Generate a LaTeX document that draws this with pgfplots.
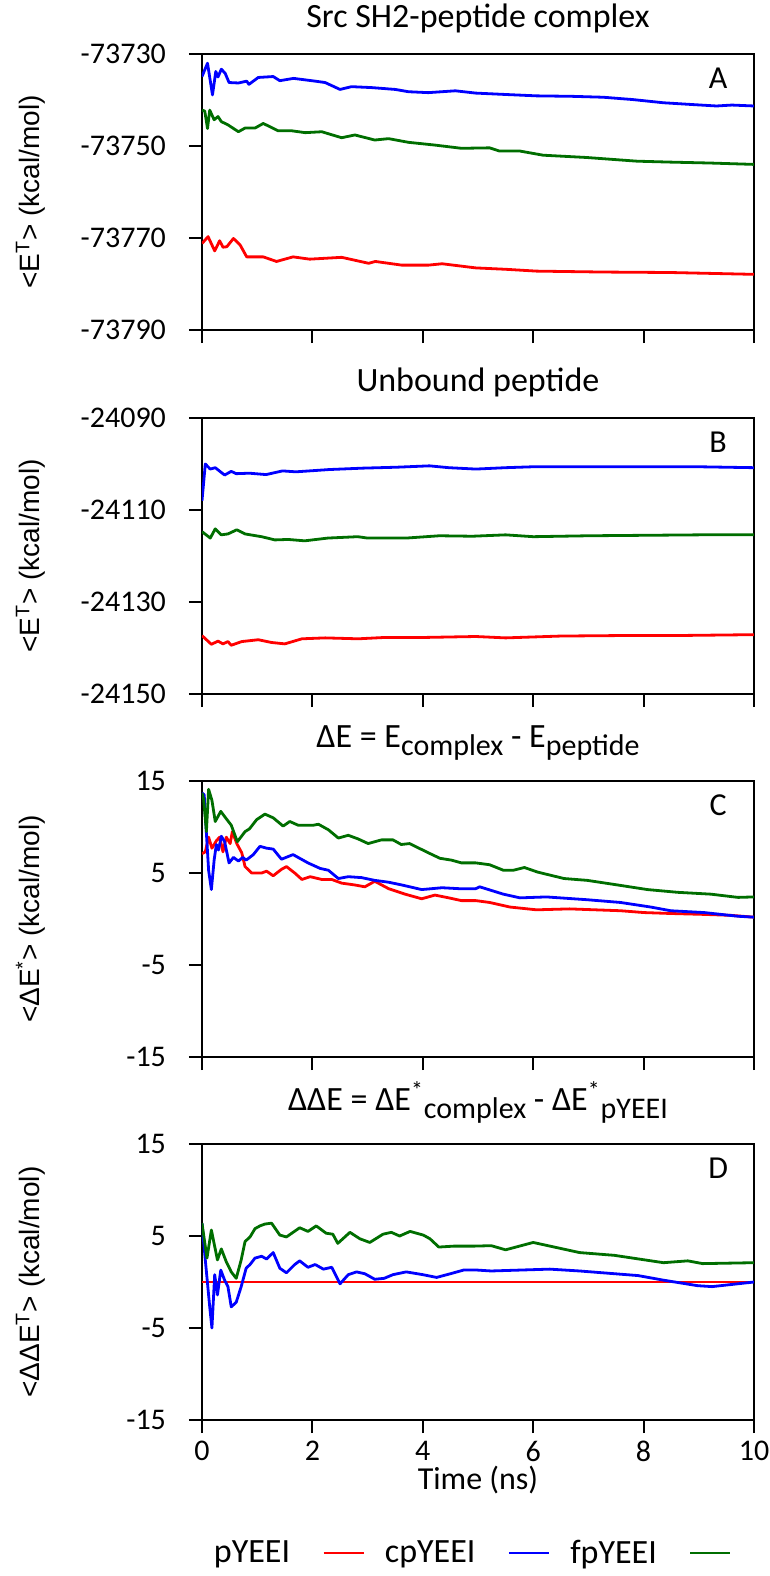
\documentclass[border=0pt]{standalone}
\usepackage{fontspec}
\setmainfont{Carlito}
\newfontfamily\labfont{Liberation Sans}
\usepackage{pgfplots}
\pgfplotsset{compat=1.18}
\definecolor{cRed}{RGB}{255,0,0}
\definecolor{cBlue}{RGB}{0,0,255}
\definecolor{cGreen}{RGB}{0,110,0}
\newcommand{\sub}[1]{\raisebox{-0.45ex}{\fontsize{15}{15}\selectfont #1}}

\pgfplotsset{
  panel/.style={
    width=276pt, height=138pt, scale only axis,
    xmin=0, xmax=10, xtick={0,2,4,6,8,10},
    scaled y ticks=false,
    tick align=outside, xtick pos=bottom, ytick pos=left,
    major tick length=6.5pt,
    axis line style={line width=1pt},
    every tick/.style={black, line width=1pt},
    title style={font=\fontsize{17}{20}\selectfont, yshift=1pt},
    tick label style={font=\fontsize{15}{18}\selectfont},
    yticklabel style={xshift=-8pt},
    xticklabel style={yshift=-3pt, inner sep=1pt},
    every axis y label/.style={at={(rel axis cs:-0.31,0.5)}, rotate=90, anchor=center,
      font=\labfont\fontsize{14}{16}\selectfont},
    every axis plot/.append style={line width=1.4pt, line join=round, no markers},
  },
  panelE/.style={ytick={-15,-5,5,15}, yticklabels={-15,-5,5,15}, ymin=-15, ymax=15},
}

\begin{document}
\begin{tikzpicture}

% A: complex
\begin{axis}[panel, name=A, at={(0,0)},
  title={Src SH2-peptide complex},
  ymin=-73790, ymax=-73730,
  ytick={-73790,-73770,-73750,-73730},
  yticklabels={-73790,-73770,-73750,-73730},
  xticklabels={},
  ylabel={<E\textsuperscript{T}> (kcal/mol)}]
\addplot[cRed] coordinates {
 (0,-73771.2) (0.11,-73769.7) (0.23,-73772.8) (0.32,-73770.6) (0.38,-73772.0) (0.45,-73771.9)
 (0.57,-73770.1) (0.69,-73771.5) (0.81,-73774.1) (1.11,-73774.1) (1.35,-73775.1) (1.65,-73774.1)
 (1.95,-73774.6) (2.53,-73774.2) (3.02,-73775.5) (3.14,-73775.1) (3.62,-73775.9) (4.10,-73775.9)
 (4.35,-73775.6) (4.96,-73776.5) (5.5,-73776.8) (6.06,-73777.2) (7.27,-73777.4) (8.48,-73777.5)
 (10,-73777.9)};
\addplot[cBlue] coordinates {
 (0,-73734.9) (0.10,-73732.0) (0.19,-73738.9) (0.25,-73733.8) (0.29,-73735.0) (0.35,-73733.3)
 (0.42,-73734.2) (0.49,-73736.2) (0.66,-73736.3) (0.81,-73735.9) (0.85,-73736.6) (1.02,-73735.1)
 (1.29,-73734.9) (1.41,-73735.8) (1.66,-73735.3) (2.05,-73735.9) (2.23,-73736.2) (2.50,-73737.7)
 (2.71,-73737.1) (3.07,-73737.3) (3.50,-73737.7) (3.74,-73738.2) (4.10,-73738.4) (4.59,-73738.0)
 (4.96,-73738.5) (5.5,-73738.8) (6.06,-73739.1) (6.7,-73739.2) (7.27,-73739.4) (7.8,-73739.9)
 (8.36,-73740.6) (8.9,-73741.0) (9.32,-73741.3) (9.6,-73741.1) (10,-73741.3)};
\addplot[cGreen] coordinates {
 (0,-73742.2) (0.05,-73742.4) (0.10,-73746.2) (0.14,-73742.2) (0.22,-73744.3) (0.29,-73743.6)
 (0.35,-73744.7) (0.47,-73745.4) (0.66,-73746.9) (0.78,-73746.1) (0.96,-73746.1) (1.11,-73745.1)
 (1.38,-73746.7) (1.63,-73746.7) (1.87,-73747.1) (2.17,-73746.9) (2.53,-73748.2) (2.77,-73747.6)
 (3.13,-73748.7) (3.38,-73748.4) (3.74,-73749.2) (4.22,-73749.8) (4.70,-73750.5) (5.21,-73750.4)
 (5.39,-73751.1) (5.76,-73751.1) (6.18,-73752.0) (6.97,-73752.5) (7.88,-73753.3) (8.48,-73753.5)
 (9.2,-73753.7) (10,-73754.0)};
\node[font=\fontsize{16}{18}\selectfont] at (rel axis cs:0.935,0.913) {A};
\end{axis}

% B: unbound peptide
\begin{axis}[panel, name=B, at={(0,-182pt)},
  title={Unbound peptide},
  ymin=-24150, ymax=-24090,
  ytick={-24150,-24130,-24110,-24090},
  yticklabels={-24150,-24130,-24110,-24090},
  xticklabels={},
  ylabel={<E\textsuperscript{T}> (kcal/mol)}]
\addplot[cRed] coordinates {
 (0,-24137.3) (0.17,-24139.2) (0.29,-24138.5) (0.38,-24139.1) (0.47,-24138.6) (0.53,-24139.4)
 (0.72,-24138.6) (1.02,-24138.2) (1.26,-24138.8) (1.50,-24139.1) (1.81,-24138.0) (2.23,-24137.8)
 (2.83,-24138.0) (3.32,-24137.7) (4.05,-24137.7) (4.96,-24137.5) (5.5,-24137.8) (6.5,-24137.4)
 (7.5,-24137.3) (8.5,-24137.3) (10,-24137.1)};
\addplot[cBlue] coordinates {
 (0,-24108.0) (0.06,-24100.0) (0.15,-24101.1) (0.24,-24100.8) (0.41,-24102.4) (0.53,-24101.6)
 (0.62,-24102.1) (0.86,-24102.0) (1.16,-24102.3) (1.46,-24101.5) (1.70,-24101.7) (2.31,-24101.2)
 (2.91,-24100.9) (3.52,-24100.7) (4.12,-24100.4) (4.47,-24100.8) (4.96,-24101.1) (5.5,-24100.8)
 (6.0,-24100.6) (7.0,-24100.6) (8.0,-24100.6) (9.0,-24100.6) (10,-24100.8)};
\addplot[cGreen] coordinates {
 (0,-24114.7) (0.15,-24116.1) (0.24,-24114.1) (0.35,-24115.4) (0.47,-24115.2) (0.63,-24114.3)
 (0.78,-24115.2) (1.08,-24115.8) (1.32,-24116.5) (1.56,-24116.4) (1.86,-24116.7) (2.28,-24116.1)
 (2.82,-24115.8) (3.0,-24116.1) (3.70,-24116.1) (4.30,-24115.6) (4.9,-24115.7) (5.5,-24115.4)
 (6.0,-24115.8) (7.0,-24115.6) (8.0,-24115.5) (9.0,-24115.4) (10,-24115.4)};
\node[font=\fontsize{16}{18}\selectfont] at (rel axis cs:0.935,0.913) {B};
\end{axis}

% C: Delta E
\begin{axis}[panel, panelE, name=C, at={(0,-363.5pt)},
  title={ΔE = E\sub{complex} - E\sub{peptide}},
  xticklabels={},
  ylabel={<ΔE\textsuperscript{*}> (kcal/mol)}]
\addplot[cRed] coordinates {
 (0,7.1) (0.06,7.3) (0.12,8.9) (0.18,7.7) (0.26,8.5) (0.32,8.9) (0.38,7.3) (0.44,8.9) (0.51,8.2)
 (0.55,9.5) (0.63,8.2) (0.72,7.2) (0.78,5.7) (0.90,5.0) (1.08,5.0) (1.17,5.2) (1.29,4.7) (1.44,5.4)
 (1.53,5.7) (1.68,5.0) (1.81,4.3) (1.96,4.6) (2.17,4.3) (2.35,4.3) (2.53,3.9) (2.77,3.7) (2.95,3.5)
 (3.13,4.1) (3.38,3.3) (3.68,2.7) (3.98,2.2) (4.22,2.6) (4.47,2.3) (4.70,2.0) (4.96,2.0) (5.21,1.8)
 (5.58,1.3) (6.06,1.0) (6.66,1.1) (7.58,0.9) (8.01,0.7) (8.49,0.6) (9.10,0.5) (9.58,0.4) (10,0.2)};
\addplot[cBlue] coordinates {
 (0,13.7) (0.04,13.5) (0.08,9.3) (0.12,5.3) (0.17,3.2) (0.22,6.4) (0.26,8.1) (0.30,7.5) (0.35,9.0)
 (0.41,8.4) (0.49,6.1) (0.57,6.7) (0.66,6.3) (0.74,6.7) (0.80,6.4) (0.93,7.0) (1.05,7.9) (1.17,7.7)
 (1.29,7.6) (1.44,6.5) (1.65,7.0) (1.92,6.1) (2.14,5.5) (2.29,5.3) (2.47,4.4) (2.65,4.6) (2.89,4.5)
 (3.13,4.2) (3.38,4.0) (3.62,3.7) (3.98,3.2) (4.35,3.4) (4.65,3.3) (4.96,3.3) (5.03,3.5) (5.46,2.7)
 (5.76,2.3) (6.24,2.4) (6.97,2.1) (7.58,1.8) (8.13,1.3) (8.49,0.9) (9.10,0.7) (9.71,0.3) (10,0.2)};
\addplot[cGreen] coordinates {
 (0,13.7) (0.03,13.0) (0.08,9.5) (0.12,14.1) (0.18,12.9) (0.24,10.6) (0.34,11.7) (0.44,10.9)
 (0.53,10.2) (0.64,8.4) (0.78,9.5) (0.86,9.8) (0.99,10.8) (1.14,11.4) (1.29,11.0) (1.47,10.1)
 (1.59,10.6) (1.74,10.2) (2.02,10.2) (2.11,10.3) (2.29,9.7) (2.47,8.8) (2.65,9.1) (2.83,8.7)
 (3.01,8.2) (3.25,8.6) (3.46,8.6) (3.61,8.1) (3.76,8.2) (4.10,7.2) (4.31,6.6) (4.52,6.4) (4.70,6.1)
 (4.96,6.1) (5.21,5.9) (5.46,5.3) (5.64,5.3) (5.84,5.6) (6.08,5.1) (6.56,4.4) (6.98,4.2) (7.53,3.7)
 (8.07,3.2) (8.62,2.9) (9.22,2.7) (9.71,2.35) (10,2.4)};
\node[font=\fontsize{16}{18}\selectfont] at (rel axis cs:0.935,0.913) {C};
\end{axis}

% D: Delta Delta E
\begin{axis}[panel, panelE, name=D, at={(0,-545pt)},
  title={ΔΔE = ΔE\textsuperscript{*}\sub{complex} - ΔE\textsuperscript{*}\sub{pYEEI}},
  xticklabels={0,2,4,6,8,10},
  xlabel={Time (ns)},
  xlabel style={font=\fontsize{16}{18}\selectfont, inner sep=1pt, yshift=0pt},
  ylabel={<ΔΔE\textsuperscript{T}> (kcal/mol)},
  legend style={at={(rel axis cs:0.487,-0.482)}, anchor=center, draw=none, fill=none,
    legend columns=3, font=\fontsize{17}{20}\selectfont,
    /tikz/every even column/.append style={column sep=8pt},
    /tikz/every odd column/.append style={column sep=14pt}},
  legend plot pos=right,
  legend image code/.code={\draw[#1] (0pt,0pt) -- (20pt,0pt);}]
\addplot[cRed] coordinates {(0,0) (10,0)};
\addlegendentry{pYEEI}
\addplot[cBlue] coordinates {
 (0,6.4) (0.06,2.4) (0.14,-2.7) (0.18,-5.0) (0.23,0.8) (0.28,-1.4) (0.34,1.3) (0.41,0.2) (0.47,-0.5)
 (0.53,-2.7) (0.62,-2.2) (0.71,-0.5) (0.80,1.5) (0.87,1.9) (0.96,2.6) (1.08,2.8) (1.17,2.5) (1.29,3.2)
 (1.41,1.5) (1.53,1.0) (1.68,1.9) (1.77,2.3) (1.92,1.6) (2.05,1.9) (2.20,1.4) (2.35,1.6) (2.50,-0.2)
 (2.65,0.8) (2.80,1.1) (2.95,0.9) (3.13,0.3) (3.30,0.4) (3.46,0.8) (3.70,1.1) (4.0,0.8) (4.25,0.5)
 (4.50,0.9) (4.74,1.3) (4.98,1.3) (5.24,1.2) (6.3,1.4) (6.84,1.2) (7.9,0.7) (8.36,0.2) (8.98,-0.4)
 (9.24,-0.5) (10,0.0)};
\addlegendentry{cpYEEI}
\addplot[cGreen] coordinates {
 (0,6.4) (0.09,2.6) (0.17,5.65) (0.28,2.4) (0.35,3.6) (0.44,2.2) (0.53,1.1) (0.62,0.4) (0.71,2.4)
 (0.78,4.4) (0.87,4.9) (0.96,5.8) (1.05,6.1) (1.14,6.3) (1.26,6.4) (1.41,5.1) (1.53,4.9) (1.77,5.9)
 (1.92,5.5) (2.07,6.1) (2.25,5.3) (2.37,5.2) (2.46,4.2) (2.68,5.4) (2.86,4.7) (3.04,4.3) (3.28,5.2)
 (3.43,5.4) (3.58,5.0) (3.77,5.5) (4.01,5.1) (4.13,4.7) (4.29,3.8) (4.56,3.9) (4.92,3.9) (5.24,3.95)
 (5.5,3.5) (6.0,4.3) (6.84,3.2) (7.47,2.9) (8.36,2.1) (8.8,2.3) (9.07,2.0) (10,2.1)};
\addlegendentry{fpYEEI}
\node[font=\fontsize{16}{18}\selectfont] at (rel axis cs:0.935,0.913) {D};
\end{axis}

\pgfresetboundingbox
\path ([shift={(-101pt,165pt)}]A.south west) rectangle ([shift={(284pt,-78pt)}]D.south west);
\end{tikzpicture}
\end{document}
